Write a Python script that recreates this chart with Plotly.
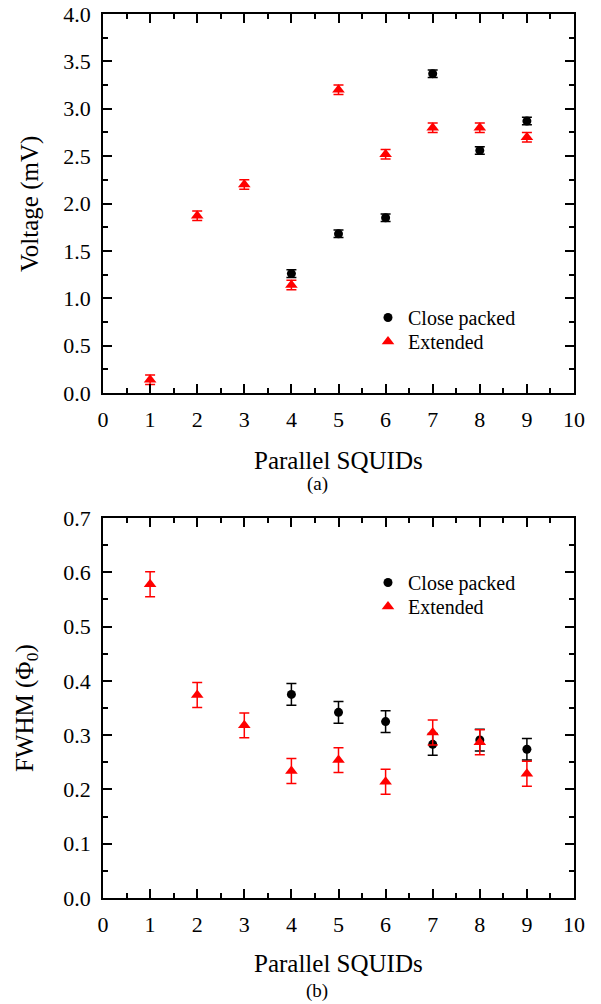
import plotly.graph_objects as go
from plotly.subplots import make_subplots

# Data
close_x = [4, 5, 6, 7, 8, 9]
close_v = [1.26, 1.68, 1.85, 3.37, 2.56, 2.87]
close_v_err = [0.04, 0.04, 0.04, 0.04, 0.04, 0.04]
ext_x = [1, 2, 3, 4, 5, 6, 7, 8, 9]
ext_v = [0.14, 1.87, 2.20, 1.14, 3.20, 2.52, 2.80, 2.80, 2.70]
ext_v_err = [0.05, 0.05, 0.05, 0.05, 0.05, 0.05, 0.05, 0.05, 0.05]

close_f = [0.375, 0.342, 0.325, 0.283, 0.291, 0.274]
close_f_err = [0.02, 0.02, 0.02, 0.02, 0.02, 0.02]
ext_f = [0.578, 0.374, 0.318, 0.234, 0.254, 0.214, 0.305, 0.287, 0.229]
ext_f_err = [0.023, 0.023, 0.023, 0.023, 0.023, 0.023, 0.023, 0.023, 0.023]

FONT = "Liberation Serif"
RED = "#ff0000"

OFF = 0  # page body margin removed by post_script
W, H = 601, 1004
L = 103 - OFF
R = W - (574 - OFF)
T = 14 - OFF
B = H - (898 - OFF)
ph = H - T - B
pw = W - L - R

def py(pix):
    return (H - B - (pix - OFF)) / ph

def px(pix):
    return (pix - OFF - L) / pw

fig = make_subplots(rows=2, cols=1)

def add(x, y, err, name, sym, color, size, row, legend):
    fig.add_trace(go.Scatter(
        x=x, y=y, mode="markers", name=name,
        marker=dict(symbol=sym, color=color, size=size, line=dict(width=0)),
        error_y=dict(type="data", array=err, visible=True, color=color,
                     thickness=1.5, width=5),
        legend=legend, showlegend=True), row=row, col=1)

add(close_x, close_v, close_v_err, "Close packed", "circle", "black", 9, 1, "legend")
add(ext_x, ext_v, ext_v_err, "Extended", "triangle-up", RED, 11, 1, "legend2")
add(close_x, close_f, close_f_err, "Close packed", "circle", "black", 9, 2, "legend3")
add(ext_x, ext_f, ext_f_err, "Extended", "triangle-up", RED, 11, 2, "legend4")

axis_common = dict(showline=True, linecolor="black", linewidth=1.5, mirror="allticks",
                   ticks="inside", tickcolor="black", tickwidth=1.5, ticklen=9,
                   showgrid=False, zeroline=False, automargin=False,
                   ticklabeloverflow="allow",
                   tickfont=dict(family=FONT, size=22, color="black"))

top_dom = [py(393), 1.0]
bot_dom = [0.0, py(518)]

fig.update_xaxes(**axis_common, range=[0, 10], dtick=1, tick0=0, ticklabelstandoff=6,
                 minor=dict(ticks="inside", ticklen=5, dtick=0.5, tick0=0,
                            tickcolor="black", tickwidth=1.5))
fig.update_yaxes(**axis_common, ticklabelstandoff=6)
fig.update_yaxes(range=[0, 4.0], dtick=0.5, tick0=0, tickformat=".1f", domain=top_dom,
                 minor=dict(ticks="inside", ticklen=5, dtick=0.25, tick0=0,
                            tickcolor="black", tickwidth=1.5),
                 row=1, col=1)
fig.update_yaxes(range=[0, 0.7], dtick=0.1, tick0=0, tickformat=".1f", domain=bot_dom,
                 minor=dict(ticks="inside", ticklen=5, dtick=0.05, tick0=0,
                            tickcolor="black", tickwidth=1.5),
                 row=2, col=1)

annots = [
    dict(text="Parallel SQUIDs", x=px(338), y=py(460), size=25, angle=0),
    dict(text="(a)", x=px(317), y=py(484), size=19, angle=0),
    dict(text="Parallel SQUIDs", x=px(338), y=py(963), size=25, angle=0),
    dict(text="(b)", x=px(317), y=py(991), size=19, angle=0),
    dict(text="Voltage (mV)", x=px(30), y=py(204), size=25, angle=-90),
    dict(text="FWHM (\u03a6<sub>0</sub>)", x=px(26), y=py(708), size=25, angle=-90),
]
for a in annots:
    fig.add_annotation(text=a["text"], x=a["x"], y=a["y"], xref="paper", yref="paper",
                       showarrow=False, xanchor="center", yanchor="middle",
                       textangle=a["angle"],
                       font=dict(family=FONT, size=a["size"], color="black"))

leg_common = dict(font=dict(family=FONT, size=20, color="black"), bgcolor="rgba(0,0,0,0)",
                  xanchor="left", yanchor="top", tracegroupgap=0, itemwidth=30,
                  x=px(368))

fig.update_layout(
    width=W, height=H,
    margin=dict(l=L, r=R, t=T, b=B, autoexpand=False),
    paper_bgcolor="white", plot_bgcolor="white",
    font=dict(family=FONT, color="black"),
    legend=dict(**leg_common, y=py(298)),
    legend2=dict(**leg_common, y=py(322)),
    legend3=dict(**leg_common, y=py(563)),
    legend4=dict(**leg_common, y=py(587)),
)

fig.write_html("out.html", config={"displayModeBar": False},
               post_script="document.body.style.margin='0';")
